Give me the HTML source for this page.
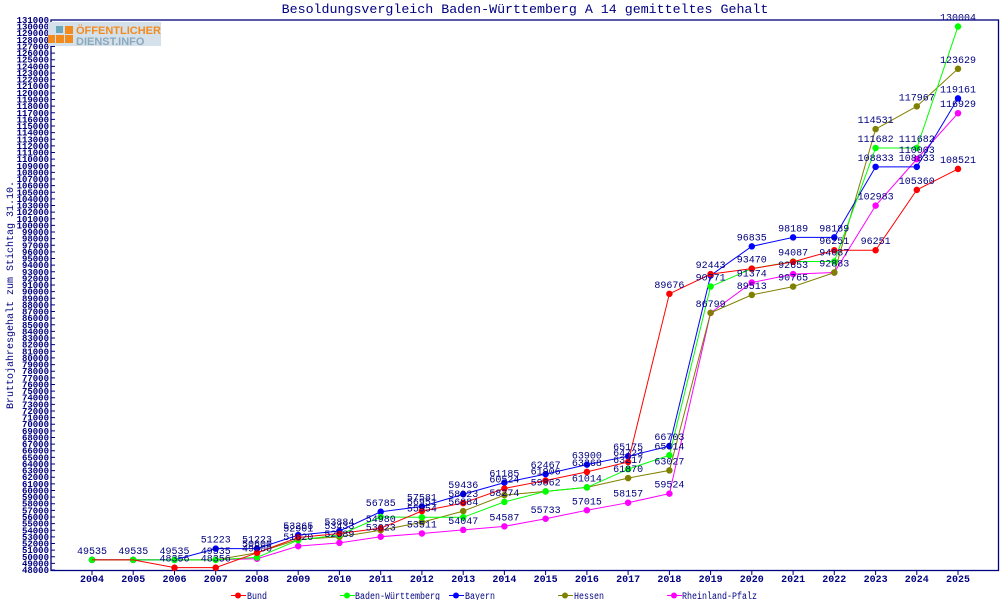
<!DOCTYPE html>
<html><head><meta charset="utf-8"><style>
html,body{margin:0;padding:0;background:#fff;}
svg{display:block;}
text{font-family:"Liberation Mono","DejaVu Sans Mono",monospace;fill:#000080;}
.yl{font-size:9px;font-weight:bold;text-anchor:end;}
.xl{font-size:10px;font-weight:bold;text-anchor:middle;}
.vl{font-size:10px;text-anchor:middle;}
.ln{fill:none;stroke-width:1;vector-effect:non-scaling-stroke;}
.mk{fill:none;stroke-width:6.5;stroke-linecap:round;vector-effect:non-scaling-stroke;}
</style></head><body>
<svg width="1000" height="600" viewBox="0 0 1000 600" xmlns="http://www.w3.org/2000/svg">
<rect width="1000" height="600" fill="#fff"/>
<text x="525" y="13" style="font-size:13.3px;text-anchor:middle">Besoldungsvergleich Baden-Württemberg A 14 gemitteltes Gehalt</text>
<text transform="translate(13,295) rotate(-90)" style="font-size:10px;text-anchor:middle">Bruttojahresgehalt zum Stichtag 31.10.</text>
<rect x="51" y="20" width="947.5" height="550.5" fill="none" stroke="#000080" stroke-width="1.3"/>
<g stroke="#000080" stroke-width="1">
<path d="M92 570v5M133.2 570v5M174.5 570v5M215.7 570v5M257 570v5M298.2 570v5M339.4 570v5M380.7 570v5M421.9 570v5M463.2 570v5M504.4 570v5M545.6 570v5M586.9 570v5M628.1 570v5M669.4 570v5M710.6 570v5M751.8 570v5M793.1 570v5M834.3 570v5M875.6 570v5M916.8 570v5M958 570v5"/>
</g>
<g class="xl">
<text x="92" y="582" class="xl">2004</text><text x="133.2" y="582" class="xl">2005</text><text x="174.5" y="582" class="xl">2006</text><text x="215.7" y="582" class="xl">2007</text><text x="257" y="582" class="xl">2008</text><text x="298.2" y="582" class="xl">2009</text><text x="339.4" y="582" class="xl">2010</text><text x="380.7" y="582" class="xl">2011</text><text x="421.9" y="582" class="xl">2012</text><text x="463.2" y="582" class="xl">2013</text><text x="504.4" y="582" class="xl">2014</text><text x="545.6" y="582" class="xl">2015</text><text x="586.9" y="582" class="xl">2016</text><text x="628.1" y="582" class="xl">2017</text><text x="669.4" y="582" class="xl">2018</text><text x="710.6" y="582" class="xl">2019</text><text x="751.8" y="582" class="xl">2020</text><text x="793.1" y="582" class="xl">2021</text><text x="834.3" y="582" class="xl">2022</text><text x="875.6" y="582" class="xl">2023</text><text x="916.8" y="582" class="xl">2024</text><text x="958" y="582" class="xl">2025</text>
</g>
<g transform="translate(0,570) scale(1,-0.006627) translate(0,-48000)">
<path class="ln" stroke="#000080" d="M51 48000h4M51 49000h4M51 50000h4M51 51000h4M51 52000h4M51 53000h4M51 54000h4M51 55000h4M51 56000h4M51 57000h4M51 58000h4M51 59000h4M51 60000h4M51 61000h4M51 62000h4M51 63000h4M51 64000h4M51 65000h4M51 66000h4M51 67000h4M51 68000h4M51 69000h4M51 70000h4M51 71000h4M51 72000h4M51 73000h4M51 74000h4M51 75000h4M51 76000h4M51 77000h4M51 78000h4M51 79000h4M51 80000h4M51 81000h4M51 82000h4M51 83000h4M51 84000h4M51 85000h4M51 86000h4M51 87000h4M51 88000h4M51 89000h4M51 90000h4M51 91000h4M51 92000h4M51 93000h4M51 94000h4M51 95000h4M51 96000h4M51 97000h4M51 98000h4M51 99000h4M51 100000h4M51 101000h4M51 102000h4M51 103000h4M51 104000h4M51 105000h4M51 106000h4M51 107000h4M51 108000h4M51 109000h4M51 110000h4M51 111000h4M51 112000h4M51 113000h4M51 114000h4M51 115000h4M51 116000h4M51 117000h4M51 118000h4M51 119000h4M51 120000h4M51 121000h4M51 122000h4M51 123000h4M51 124000h4M51 125000h4M51 126000h4M51 127000h4M51 128000h4M51 129000h4M51 130000h4M51 131000h4"/>
<g class="yl">
<text class="yl" transform="translate(49,48000) scale(1,-150.9)" y="3">48000</text>
<text class="yl" transform="translate(49,49000) scale(1,-150.9)" y="3">49000</text>
<text class="yl" transform="translate(49,50000) scale(1,-150.9)" y="3">50000</text>
<text class="yl" transform="translate(49,51000) scale(1,-150.9)" y="3">51000</text>
<text class="yl" transform="translate(49,52000) scale(1,-150.9)" y="3">52000</text>
<text class="yl" transform="translate(49,53000) scale(1,-150.9)" y="3">53000</text>
<text class="yl" transform="translate(49,54000) scale(1,-150.9)" y="3">54000</text>
<text class="yl" transform="translate(49,55000) scale(1,-150.9)" y="3">55000</text>
<text class="yl" transform="translate(49,56000) scale(1,-150.9)" y="3">56000</text>
<text class="yl" transform="translate(49,57000) scale(1,-150.9)" y="3">57000</text>
<text class="yl" transform="translate(49,58000) scale(1,-150.9)" y="3">58000</text>
<text class="yl" transform="translate(49,59000) scale(1,-150.9)" y="3">59000</text>
<text class="yl" transform="translate(49,60000) scale(1,-150.9)" y="3">60000</text>
<text class="yl" transform="translate(49,61000) scale(1,-150.9)" y="3">61000</text>
<text class="yl" transform="translate(49,62000) scale(1,-150.9)" y="3">62000</text>
<text class="yl" transform="translate(49,63000) scale(1,-150.9)" y="3">63000</text>
<text class="yl" transform="translate(49,64000) scale(1,-150.9)" y="3">64000</text>
<text class="yl" transform="translate(49,65000) scale(1,-150.9)" y="3">65000</text>
<text class="yl" transform="translate(49,66000) scale(1,-150.9)" y="3">66000</text>
<text class="yl" transform="translate(49,67000) scale(1,-150.9)" y="3">67000</text>
<text class="yl" transform="translate(49,68000) scale(1,-150.9)" y="3">68000</text>
<text class="yl" transform="translate(49,69000) scale(1,-150.9)" y="3">69000</text>
<text class="yl" transform="translate(49,70000) scale(1,-150.9)" y="3">70000</text>
<text class="yl" transform="translate(49,71000) scale(1,-150.9)" y="3">71000</text>
<text class="yl" transform="translate(49,72000) scale(1,-150.9)" y="3">72000</text>
<text class="yl" transform="translate(49,73000) scale(1,-150.9)" y="3">73000</text>
<text class="yl" transform="translate(49,74000) scale(1,-150.9)" y="3">74000</text>
<text class="yl" transform="translate(49,75000) scale(1,-150.9)" y="3">75000</text>
<text class="yl" transform="translate(49,76000) scale(1,-150.9)" y="3">76000</text>
<text class="yl" transform="translate(49,77000) scale(1,-150.9)" y="3">77000</text>
<text class="yl" transform="translate(49,78000) scale(1,-150.9)" y="3">78000</text>
<text class="yl" transform="translate(49,79000) scale(1,-150.9)" y="3">79000</text>
<text class="yl" transform="translate(49,80000) scale(1,-150.9)" y="3">80000</text>
<text class="yl" transform="translate(49,81000) scale(1,-150.9)" y="3">81000</text>
<text class="yl" transform="translate(49,82000) scale(1,-150.9)" y="3">82000</text>
<text class="yl" transform="translate(49,83000) scale(1,-150.9)" y="3">83000</text>
<text class="yl" transform="translate(49,84000) scale(1,-150.9)" y="3">84000</text>
<text class="yl" transform="translate(49,85000) scale(1,-150.9)" y="3">85000</text>
<text class="yl" transform="translate(49,86000) scale(1,-150.9)" y="3">86000</text>
<text class="yl" transform="translate(49,87000) scale(1,-150.9)" y="3">87000</text>
<text class="yl" transform="translate(49,88000) scale(1,-150.9)" y="3">88000</text>
<text class="yl" transform="translate(49,89000) scale(1,-150.9)" y="3">89000</text>
<text class="yl" transform="translate(49,90000) scale(1,-150.9)" y="3">90000</text>
<text class="yl" transform="translate(49,91000) scale(1,-150.9)" y="3">91000</text>
<text class="yl" transform="translate(49,92000) scale(1,-150.9)" y="3">92000</text>
<text class="yl" transform="translate(49,93000) scale(1,-150.9)" y="3">93000</text>
<text class="yl" transform="translate(49,94000) scale(1,-150.9)" y="3">94000</text>
<text class="yl" transform="translate(49,95000) scale(1,-150.9)" y="3">95000</text>
<text class="yl" transform="translate(49,96000) scale(1,-150.9)" y="3">96000</text>
<text class="yl" transform="translate(49,97000) scale(1,-150.9)" y="3">97000</text>
<text class="yl" transform="translate(49,98000) scale(1,-150.9)" y="3">98000</text>
<text class="yl" transform="translate(49,99000) scale(1,-150.9)" y="3">99000</text>
<text class="yl" transform="translate(49,100000) scale(1,-150.9)" y="3">100000</text>
<text class="yl" transform="translate(49,101000) scale(1,-150.9)" y="3">101000</text>
<text class="yl" transform="translate(49,102000) scale(1,-150.9)" y="3">102000</text>
<text class="yl" transform="translate(49,103000) scale(1,-150.9)" y="3">103000</text>
<text class="yl" transform="translate(49,104000) scale(1,-150.9)" y="3">104000</text>
<text class="yl" transform="translate(49,105000) scale(1,-150.9)" y="3">105000</text>
<text class="yl" transform="translate(49,106000) scale(1,-150.9)" y="3">106000</text>
<text class="yl" transform="translate(49,107000) scale(1,-150.9)" y="3">107000</text>
<text class="yl" transform="translate(49,108000) scale(1,-150.9)" y="3">108000</text>
<text class="yl" transform="translate(49,109000) scale(1,-150.9)" y="3">109000</text>
<text class="yl" transform="translate(49,110000) scale(1,-150.9)" y="3">110000</text>
<text class="yl" transform="translate(49,111000) scale(1,-150.9)" y="3">111000</text>
<text class="yl" transform="translate(49,112000) scale(1,-150.9)" y="3">112000</text>
<text class="yl" transform="translate(49,113000) scale(1,-150.9)" y="3">113000</text>
<text class="yl" transform="translate(49,114000) scale(1,-150.9)" y="3">114000</text>
<text class="yl" transform="translate(49,115000) scale(1,-150.9)" y="3">115000</text>
<text class="yl" transform="translate(49,116000) scale(1,-150.9)" y="3">116000</text>
<text class="yl" transform="translate(49,117000) scale(1,-150.9)" y="3">117000</text>
<text class="yl" transform="translate(49,118000) scale(1,-150.9)" y="3">118000</text>
<text class="yl" transform="translate(49,119000) scale(1,-150.9)" y="3">119000</text>
<text class="yl" transform="translate(49,120000) scale(1,-150.9)" y="3">120000</text>
<text class="yl" transform="translate(49,121000) scale(1,-150.9)" y="3">121000</text>
<text class="yl" transform="translate(49,122000) scale(1,-150.9)" y="3">122000</text>
<text class="yl" transform="translate(49,123000) scale(1,-150.9)" y="3">123000</text>
<text class="yl" transform="translate(49,124000) scale(1,-150.9)" y="3">124000</text>
<text class="yl" transform="translate(49,125000) scale(1,-150.9)" y="3">125000</text>
<text class="yl" transform="translate(49,126000) scale(1,-150.9)" y="3">126000</text>
<text class="yl" transform="translate(49,127000) scale(1,-150.9)" y="3">127000</text>
<text class="yl" transform="translate(49,128000) scale(1,-150.9)" y="3">128000</text>
<text class="yl" transform="translate(49,129000) scale(1,-150.9)" y="3">129000</text>
<text class="yl" transform="translate(49,130000) scale(1,-150.9)" y="3">130000</text>
<text class="yl" transform="translate(49,131000) scale(1,-150.9)" y="3">131000</text>
</g>

<polyline class="ln" stroke="#ff00ff" points="92,49535 133.2,49535 174.5,49535 215.7,49535 257,49700 298.2,51600 339.4,52100 380.7,53023 421.9,53511 463.2,54047 504.4,54587 545.6,55733 586.9,57015 628.1,58157 669.4,59524 710.6,86799 751.8,91374 793.1,92653 834.3,92883 875.6,102983 916.8,110003 958,116929"/>
<path class="mk" stroke="#ff00ff" d="M257 49700h0M298.2 51600h0M339.4 52100h0M380.7 53023h0M421.9 53511h0M463.2 54047h0M504.4 54587h0M545.6 55733h0M586.9 57015h0M628.1 58157h0M669.4 59524h0M710.6 86799h0M751.8 91374h0M793.1 92653h0M834.3 92883h0M875.6 102983h0M916.8 110003h0M958 116929h0"/>
<polyline class="ln" stroke="#808000" points="92,49535 133.2,49535 174.5,49535 215.7,49535 257,50600 298.2,52600 339.4,53000 380.7,54000 421.9,55211 463.2,56884 504.4,59300 545.6,59862 586.9,60461 628.1,61870 669.4,63027 710.6,86799 751.8,89513 793.1,90765 834.3,92883 875.6,114531 916.8,117967 958,123629"/>
<path class="mk" stroke="#808000" d="M92 49535h0M133.2 49535h0M174.5 49535h0M215.7 49535h0M257 50600h0M298.2 52600h0M339.4 53000h0M380.7 54000h0M421.9 55211h0M463.2 56884h0M504.4 59300h0M545.6 59862h0M586.9 60461h0M628.1 61870h0M669.4 63027h0M710.6 86799h0M751.8 89513h0M793.1 90765h0M834.3 92883h0M875.6 114531h0M916.8 117967h0M958 123629h0"/>
<polyline class="ln" stroke="#0000ff" points="92,49535 133.2,49535 174.5,49535 215.7,51223 257,51223 298.2,53265 339.4,53884 380.7,56785 421.9,57581 463.2,59436 504.4,61185 545.6,62467 586.9,63900 628.1,65175 669.4,66703 710.6,92443 751.8,96835 793.1,98189 834.3,98189 875.6,108833 916.8,108833 958,119161"/>
<path class="mk" stroke="#0000ff" d="M92 49535h0M133.2 49535h0M174.5 49535h0M215.7 51223h0M257 51223h0M298.2 53265h0M339.4 53884h0M380.7 56785h0M421.9 57581h0M463.2 59436h0M504.4 61185h0M545.6 62467h0M586.9 63900h0M628.1 65175h0M669.4 66703h0M710.6 92443h0M751.8 96835h0M793.1 98189h0M834.3 98189h0M875.6 108833h0M916.8 108833h0M958 119161h0"/>
<polyline class="ln" stroke="#00ff00" points="92,49535 133.2,49535 174.5,49535 215.7,49535 257,49900 298.2,52500 339.4,53300 380.7,56000 421.9,55954 463.2,55954 504.4,58274 545.6,59862 586.9,60461 628.1,63217 669.4,65314 710.6,90771 751.8,93470 793.1,94549 834.3,94549 875.6,111682 916.8,111682 958,130004"/>
<path class="mk" stroke="#00ff00" d="M92 49535h0M133.2 49535h0M174.5 49535h0M215.7 49535h0M257 49900h0M298.2 52500h0M339.4 53300h0M380.7 56000h0M421.9 55954h0M463.2 55954h0M504.4 58274h0M545.6 59862h0M586.9 60461h0M628.1 63217h0M669.4 65314h0M710.6 90771h0M751.8 93470h0M793.1 94549h0M834.3 94549h0M875.6 111682h0M916.8 111682h0M958 130004h0"/>
<polyline class="ln" stroke="#ff0000" points="92,49535 133.2,49535 174.5,48356 215.7,48356 257,50600 298.2,52900 339.4,53500 380.7,54300 421.9,56900 463.2,58100 504.4,60300 545.6,61500 586.9,62800 628.1,64300 669.4,89676 710.6,92643 751.8,93470 793.1,94500 834.3,96251 875.6,96251 916.8,105360 958,108521"/>
<path class="mk" stroke="#ff0000" d="M174.5 48356h0M215.7 48356h0M257 50600h0M298.2 52900h0M339.4 53500h0M380.7 54300h0M421.9 56900h0M463.2 58100h0M504.4 60300h0M545.6 61500h0M586.9 62800h0M628.1 64300h0M669.4 89676h0M710.6 92643h0M751.8 93470h0M793.1 94500h0M834.3 96251h0M875.6 96251h0M916.8 105360h0M958 108521h0"/>

<g class="vl">
<text class="vl" transform="translate(92,49535) scale(1,-150.9)" y="-6">49535</text>
<text class="vl" transform="translate(133.2,49535) scale(1,-150.9)" y="-6">49535</text>
<text class="vl" transform="translate(174.5,49535) scale(1,-150.9)" y="-6">49535</text>
<text class="vl" transform="translate(174.5,48356) scale(1,-150.9)" y="-6">48356</text>
<text class="vl" transform="translate(215.7,48356) scale(1,-150.9)" y="-6">48356</text>
<text class="vl" transform="translate(215.7,49535) scale(1,-150.9)" y="-6">49535</text>
<text class="vl" transform="translate(215.7,51223) scale(1,-150.9)" y="-6">51223</text>
<text class="vl" transform="translate(257,51223) scale(1,-150.9)" y="-6">51223</text>
<text class="vl" transform="translate(257,50600) scale(1,-150.9)" y="-6">50600</text>
<text class="vl" transform="translate(257,49900) scale(1,-150.9)" y="-6">49900</text>
<text class="vl" transform="translate(298.2,53265) scale(1,-150.9)" y="-6">53265</text>
<text class="vl" transform="translate(298.2,52900) scale(1,-150.9)" y="-6">52901</text>
<text class="vl" transform="translate(298.2,51600) scale(1,-150.9)" y="-6">51620</text>
<text class="vl" transform="translate(339.4,53884) scale(1,-150.9)" y="-6">53884</text>
<text class="vl" transform="translate(339.4,53300) scale(1,-150.9)" y="-6">53433</text>
<text class="vl" transform="translate(339.4,52100) scale(1,-150.9)" y="-6">52589</text>
<text class="vl" transform="translate(380.7,56785) scale(1,-150.9)" y="-6">56785</text>
<text class="vl" transform="translate(380.7,54300) scale(1,-150.9)" y="-6">54980</text>
<text class="vl" transform="translate(380.7,53023) scale(1,-150.9)" y="-6">53023</text>
<text class="vl" transform="translate(421.9,57581) scale(1,-150.9)" y="-6">57581</text>
<text class="vl" transform="translate(421.9,56900) scale(1,-150.9)" y="-6">56951</text>
<text class="vl" transform="translate(421.9,55954) scale(1,-150.9)" y="-6">55954</text>
<text class="vl" transform="translate(421.9,53511) scale(1,-150.9)" y="-6">53511</text>
<text class="vl" transform="translate(463.2,59436) scale(1,-150.9)" y="-6">59436</text>
<text class="vl" transform="translate(463.2,58100) scale(1,-150.9)" y="-6">58923</text>
<text class="vl" transform="translate(463.2,56884) scale(1,-150.9)" y="-6">56884</text>
<text class="vl" transform="translate(463.2,54047) scale(1,-150.9)" y="-6">54047</text>
<text class="vl" transform="translate(504.4,61185) scale(1,-150.9)" y="-6">61185</text>
<text class="vl" transform="translate(504.4,60300) scale(1,-150.9)" y="-6">60524</text>
<text class="vl" transform="translate(504.4,58274) scale(1,-150.9)" y="-6">58274</text>
<text class="vl" transform="translate(504.4,54587) scale(1,-150.9)" y="-6">54587</text>
<text class="vl" transform="translate(545.6,62467) scale(1,-150.9)" y="-6">62467</text>
<text class="vl" transform="translate(545.6,61500) scale(1,-150.9)" y="-6">61906</text>
<text class="vl" transform="translate(545.6,59862) scale(1,-150.9)" y="-6">59862</text>
<text class="vl" transform="translate(545.6,55733) scale(1,-150.9)" y="-6">55733</text>
<text class="vl" transform="translate(586.9,63900) scale(1,-150.9)" y="-6">63900</text>
<text class="vl" transform="translate(586.9,62800) scale(1,-150.9)" y="-6">63268</text>
<text class="vl" transform="translate(586.9,60461) scale(1,-150.9)" y="-6">61014</text>
<text class="vl" transform="translate(586.9,57015) scale(1,-150.9)" y="-6">57015</text>
<text class="vl" transform="translate(628.1,65175) scale(1,-150.9)" y="-6">65175</text>
<text class="vl" transform="translate(628.1,64300) scale(1,-150.9)" y="-6">64723</text>
<text class="vl" transform="translate(628.1,63217) scale(1,-150.9)" y="-6">63217</text>
<text class="vl" transform="translate(628.1,61870) scale(1,-150.9)" y="-6">61870</text>
<text class="vl" transform="translate(628.1,58157) scale(1,-150.9)" y="-6">58157</text>
<text class="vl" transform="translate(669.4,89676) scale(1,-150.9)" y="-6">89676</text>
<text class="vl" transform="translate(669.4,66703) scale(1,-150.9)" y="-6">66703</text>
<text class="vl" transform="translate(669.4,65314) scale(1,-150.9)" y="-6">65314</text>
<text class="vl" transform="translate(669.4,63027) scale(1,-150.9)" y="-6">63027</text>
<text class="vl" transform="translate(669.4,59524) scale(1,-150.9)" y="-6">59524</text>
<text class="vl" transform="translate(710.6,92643) scale(1,-150.9)" y="-6">92443</text>
<text class="vl" transform="translate(710.6,90771) scale(1,-150.9)" y="-6">90771</text>
<text class="vl" transform="translate(710.6,86799) scale(1,-150.9)" y="-6">86799</text>
<text class="vl" transform="translate(751.8,96835) scale(1,-150.9)" y="-6">96835</text>
<text class="vl" transform="translate(751.8,93470) scale(1,-150.9)" y="-6">93470</text>
<text class="vl" transform="translate(751.8,91374) scale(1,-150.9)" y="-6">91374</text>
<text class="vl" transform="translate(751.8,89513) scale(1,-150.9)" y="-6">89513</text>
<text class="vl" transform="translate(793.1,98189) scale(1,-150.9)" y="-6">98189</text>
<text class="vl" transform="translate(793.1,94549) scale(1,-150.9)" y="-6">94087</text>
<text class="vl" transform="translate(793.1,92653) scale(1,-150.9)" y="-6">92653</text>
<text class="vl" transform="translate(793.1,90765) scale(1,-150.9)" y="-6">90765</text>
<text class="vl" transform="translate(834.3,98189) scale(1,-150.9)" y="-6">98189</text>
<text class="vl" transform="translate(834.3,96251) scale(1,-150.9)" y="-6">96251</text>
<text class="vl" transform="translate(834.3,94549) scale(1,-150.9)" y="-6">94087</text>
<text class="vl" transform="translate(834.3,92883) scale(1,-150.9)" y="-6">92883</text>
<text class="vl" transform="translate(875.6,114531) scale(1,-150.9)" y="-6">114531</text>
<text class="vl" transform="translate(875.6,111682) scale(1,-150.9)" y="-6">111682</text>
<text class="vl" transform="translate(875.6,108833) scale(1,-150.9)" y="-6">108833</text>
<text class="vl" transform="translate(875.6,102983) scale(1,-150.9)" y="-6">102983</text>
<text class="vl" transform="translate(875.6,96251) scale(1,-150.9)" y="-6">96251</text>
<text class="vl" transform="translate(916.8,117967) scale(1,-150.9)" y="-6">117967</text>
<text class="vl" transform="translate(916.8,111682) scale(1,-150.9)" y="-6">111682</text>
<text class="vl" transform="translate(916.8,110003) scale(1,-150.9)" y="-6">110003</text>
<text class="vl" transform="translate(916.8,108833) scale(1,-150.9)" y="-6">108833</text>
<text class="vl" transform="translate(916.8,105360) scale(1,-150.9)" y="-6">105360</text>
<text class="vl" transform="translate(958,130004) scale(1,-150.9)" y="-6">130004</text>
<text class="vl" transform="translate(958,123629) scale(1,-150.9)" y="-6">123629</text>
<text class="vl" transform="translate(958,119161) scale(1,-150.9)" y="-6">119161</text>
<text class="vl" transform="translate(958,116929) scale(1,-150.9)" y="-6">116929</text>
<text class="vl" transform="translate(958,108521) scale(1,-150.9)" y="-6">108521</text>
</g>
</g>

<g>
<rect x="48" y="22" width="113" height="24" fill="#d5e1ea"/>
<rect x="56" y="26" width="7" height="7" fill="#6aa8bd"/>
<rect x="65" y="26" width="8" height="8" fill="#f28a1e"/>
<rect x="48" y="35" width="7" height="8" fill="#f28a1e"/>
<rect x="56" y="35" width="8" height="8" fill="#f28a1e"/>
<rect x="65" y="35" width="8" height="8" fill="#f28a1e"/>
<text x="76" y="34" style="font-family:'Liberation Sans',sans-serif;font-size:11px;font-weight:bold;fill:#f28a1e">ÖFFENTLICHER</text>
<text x="76" y="45" style="font-family:'Liberation Sans',sans-serif;font-size:11px;font-weight:bold;fill:#8aa9bd">DIENST.INFO</text>
</g>

<g stroke-width="1">
<path d="M231 595.5h15" stroke="#ff0000"/><path d="M238 595.5h0" stroke="#ff0000" stroke-width="6" stroke-linecap="round"/>
<path d="M340 595.5h15" stroke="#00ff00"/><path d="M347 595.5h0" stroke="#00ff00" stroke-width="6" stroke-linecap="round"/>
<path d="M449 595.5h15" stroke="#0000ff"/><path d="M456 595.5h0" stroke="#0000ff" stroke-width="6" stroke-linecap="round"/>
<path d="M558 595.5h15" stroke="#808000"/><path d="M565 595.5h0" stroke="#808000" stroke-width="6" stroke-linecap="round"/>
<path d="M667 595.5h15" stroke="#ff00ff"/><path d="M674 595.5h0" stroke="#ff00ff" stroke-width="6" stroke-linecap="round"/>
</g>
<g>
<text x="247" y="599" style="font-size:10px" textLength="20" lengthAdjust="spacingAndGlyphs">Bund</text>
<text x="355" y="599" style="font-size:10px" textLength="85" lengthAdjust="spacingAndGlyphs">Baden-Württemberg</text>
<text x="465" y="599" style="font-size:10px" textLength="30" lengthAdjust="spacingAndGlyphs">Bayern</text>
<text x="574" y="599" style="font-size:10px" textLength="30" lengthAdjust="spacingAndGlyphs">Hessen</text>
<text x="682" y="599" style="font-size:10px" textLength="75" lengthAdjust="spacingAndGlyphs">Rheinland-Pfalz</text>
</g>
</svg>
</body></html>
